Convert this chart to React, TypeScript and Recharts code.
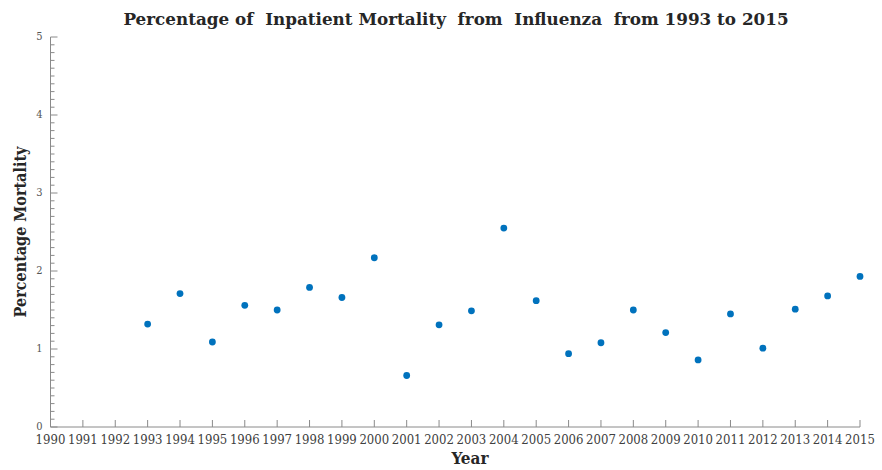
import React from "react";
import { ScatterChart, Scatter, XAxis, YAxis, Customized } from "recharts";

const years = [1993, 1994, 1995, 1996, 1997, 1998, 1999, 2000, 2001, 2002, 2003, 2004, 2005, 2006, 2007, 2008, 2009, 2010, 2011, 2012, 2013, 2014, 2015];
const mortality = [1.32, 1.71, 1.09, 1.56, 1.50, 1.79, 1.66, 2.17, 0.66, 1.31, 1.49, 2.55, 1.62, 0.94, 1.08, 1.50, 1.21, 0.86, 1.45, 1.01, 1.51, 1.68, 1.93];
const xTicks = [1990, 1991, 1992, 1993, 1994, 1995, 1996, 1997, 1998, 1999, 2000, 2001, 2002, 2003, 2004, 2005, 2006, 2007, 2008, 2009, 2010, 2011, 2012, 2013, 2014, 2015];
const yMajorTicks = [0, 1, 2, 3, 4, 5];
const yMinorTicks = Array.from({ length: 51 }, (_, i) => Math.round(i) / 10);

const data = years.map((y, i) => ({ year: y, value: mortality[i] }));

const AXIS = "#8a8a8a";
const SERIF_C = "'DejaVu Serif Condensed', 'DejaVu Serif', serif";
const SERIF = "'DejaVu Serif', serif";

const XTick = (props: any) => {
  const { x, y, payload } = props;
  return (
    <g>
      <line x1={x} y1={y} x2={x} y2={y - 7} stroke={AXIS} strokeWidth={1} />
      <text x={x} y={y + 16.5} textAnchor="middle" fontSize={13} fontFamily={SERIF_C} fill="#404040">
        {payload.value}
      </text>
    </g>
  );
};

const YTick = (props: any) => {
  const { x, y, payload } = props;
  const v = payload.value;
  const major = yMajorTicks.includes(v);
  return (
    <g>
      <line x1={x} y1={y} x2={x + (major ? 7 : 4)} y2={y} stroke={AXIS} strokeWidth={1} />
      {major && (
        <text x={x - 8} y={y + 3} textAnchor="end" fontSize={11} fontFamily={SERIF_C} fill="#555555">
          {v}
        </text>
      )}
    </g>
  );
};

const Dot = (props: any) => <circle cx={props.cx} cy={props.cy} r={3.4} fill="#0072BD" />;

const Titles = () => (
  <g>
    <text x={456} y={25} textAnchor="middle" fontSize={16.8} fontWeight="bold" fontFamily={SERIF} fill="#262626" style={{ whiteSpace: "pre" }}>
      {"Percentage of  Inpatient Mortality  from  Influenza  from 1993 to 2015"}
    </text>
    <text x={470} y={464} textAnchor="middle" fontSize={17} fontWeight="bold" fontFamily={SERIF_C} fill="#262626">
      Year
    </text>
    <text x={26} y={232} textAnchor="middle" fontSize={16} fontWeight="bold" fontFamily={SERIF_C} fill="#262626" transform="rotate(-90 26 232)">
      Percentage Mortality
    </text>
  </g>
);

export default function App() {
  return (
    <div style={{ position: "absolute", left: 0, top: 0, background: "#fff" }}>
      <ScatterChart width={882} height={470} margin={{ top: 37, right: 22, bottom: 12, left: 10.5 }}>
        <XAxis
          type="number"
          dataKey="year"
          domain={[1990, 2015]}
          ticks={xTicks}
          interval={0}
          tickSize={0}
          tickMargin={0}
          tick={<XTick />}
          axisLine={{ stroke: AXIS }}
          height={31}
        />
        <YAxis
          type="number"
          dataKey="value"
          domain={[0, 5]}
          ticks={yMinorTicks}
          interval={0}
          tickSize={0}
          tickMargin={0}
          tick={<YTick />}
          axisLine={{ stroke: AXIS }}
          width={40}
        />
        <Scatter data={data} shape={<Dot />} isAnimationActive={false} />
        <Customized component={<Titles />} />
      </ScatterChart>
    </div>
  );
}
